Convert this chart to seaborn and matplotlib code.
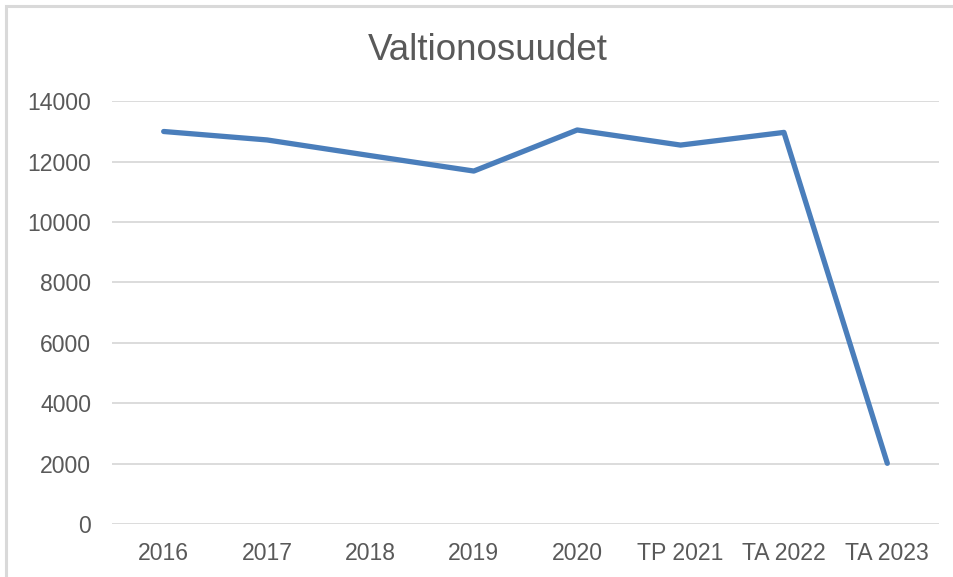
import matplotlib
matplotlib.use("Agg")
import matplotlib.pyplot as plt
import seaborn as sns
import pandas as pd
from matplotlib.patches import Rectangle

categories = ["2016", "2017", "2018", "2019", "2020", "TP 2021", "TA 2022", "TA 2023"]
values = [13000, 12720, 12200, 11690, 13050, 12550, 12970, 2010]
yticks = [0, 2000, 4000, 6000, 8000, 10000, 12000, 14000]
title = "Valtionosuudet"

sns.set_theme(style="white")
plt.rcParams['font.family'] = ['Liberation Sans', 'DejaVu Sans']

text_color = "#595959"
grid_color = "#d9d9d9"
line_color = "#4a7ebb"

fig = plt.figure(figsize=(9.54, 5.77), dpi=100)
ax = fig.add_axes([112/954, 1 - 524/577, (939-112)/954, (524-101.3)/577])

df = pd.DataFrame({"cat": categories, "val": values})
sns.lineplot(data=df, x="cat", y="val", ax=ax, color=line_color, linewidth=3.8,
             sort=False)
for l in ax.lines:
    l.set_solid_capstyle("round")
    l.set_solid_joinstyle("round")

ax.set_xlim(-0.5, len(categories) - 0.5)
ax.set_ylim(0, 14000)
ax.set_yticks(yticks)
ax.set_yticklabels([str(v) for v in yticks])
ax.set_xlabel("")
ax.set_ylabel("")
ax.grid(axis="y", color=grid_color, linewidth=1.3)
ax.grid(axis="x", visible=False)
ax.set_axisbelow(True)
for s in ax.spines.values():
    s.set_visible(False)
ax.tick_params(axis="both", length=0, labelsize=16.6, labelcolor=text_color)
ax.tick_params(axis="y", pad=15)
ax.tick_params(axis="x", pad=13)

fig.text(488/954, 1 - 60/577, title, ha="center", va="baseline",
         fontsize=26.5, color=text_color)

fig.patches.append(Rectangle((6/954, -0.1), 1.2, 1 - 5.5/577 + 0.1,
                             transform=fig.transFigure, fill=False,
                             edgecolor=grid_color, linewidth=2.2))

fig.savefig("out.png", dpi=100)
